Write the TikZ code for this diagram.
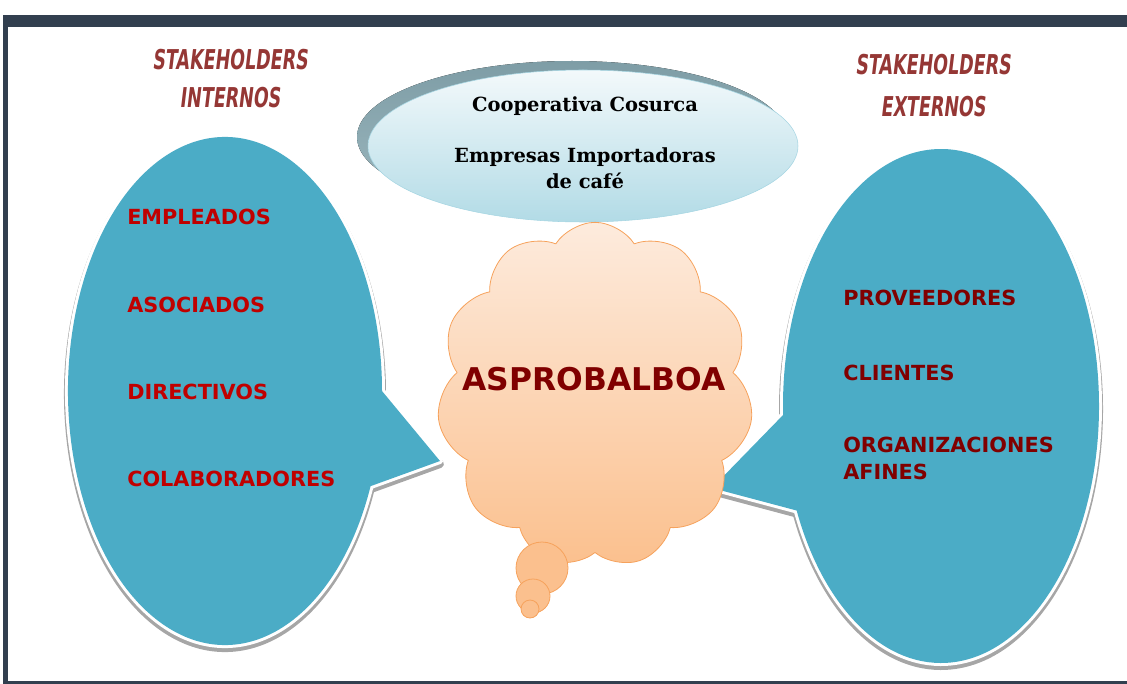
\documentclass[tikz,border=0pt]{standalone}
\usepackage{fontspec}
\usepackage{tikz}
\usetikzlibrary{shapes.symbols,calc}

\newfontfamily\capsfont{DejaVu Sans}
\newfontfamily\boxfont{DejaVu Serif}
\newfontfamily\handfont{DejaVu Sans}[FakeStretch=0.64,FakeSlant=0.12]

\definecolor{framecol}{HTML}{323F4F}
\definecolor{bubblecol}{HTML}{4BACC6}
\definecolor{shadowcol}{HTML}{A6A6A6}
\definecolor{intred}{HTML}{C00000}
\definecolor{extred}{HTML}{800000}
\definecolor{titlered}{HTML}{953735}
\definecolor{backtop}{HTML}{7E9DA6}
\definecolor{backbot}{HTML}{9DB8BF}
\definecolor{fronttop}{HTML}{F3F9FB}
\definecolor{frontbot}{HTML}{B2DBE6}
\definecolor{frontline}{HTML}{A5D5E2}
\definecolor{cloudtop}{HTML}{FDEBDD}
\definecolor{cloudbot}{HTML}{FBC08E}
\definecolor{cloudline}{HTML}{F6A25C}

\tikzset{
  bubble/.style={fill=bubblecol, preaction={draw=white, line width=4.5pt}},
  bubbleshadow/.style={fill=shadowcol, draw=shadowcol, line width=6pt,
    transform canvas={yshift=-2.25pt}},
  intlabel/.style={anchor=west, inner sep=0pt, text=intred,
    font=\capsfont\bfseries\fontsize{15.6}{20.25}\selectfont},
  extlabel/.style={intlabel, text=extred, align=left},
  stakeholder/.style={inner sep=0pt, text=titlered, align=center,
    font=\handfont\bfseries\fontsize{20.5}{28.5}\selectfont},
  boxtext/.style={inner sep=0pt, align=center,
    font=\boxfont\bfseries\fontsize{14.6}{19.5}\selectfont},
  puff/.style={draw=cloudline, line width=0.6pt, fill=cloudbot},
}

\newcommand\leftbubble{(ltip) -- ($(lc)+(22:157 and 254)$)
  arc[start angle=22, end angle=360, x radius=157, y radius=254] -- cycle}
\newcommand\rightbubble{(rtip) -- ($(rc)+(178:158 and 257)$)
  arc[start angle=178, end angle=516, x radius=158, y radius=257] -- cycle}

\begin{document}
\begin{tikzpicture}[x=0.75pt,y=-0.75pt,line join=round]
  \useasboundingbox (0,0) rectangle (1127,684);
%% frame
  \fill[framecol] (3,15) rectangle (1127,27);
  \fill[framecol] (3,15) rectangle (8,684);
  \fill[framecol] (3,681) rectangle (1127,684);
%% centres and tips
  \coordinate (lc) at (225,391);
  \coordinate (ltip) at (440,461);
  \coordinate (rc) at (941,406);
  \coordinate (rtip) at (712,488);
  \coordinate (topc) at (583,146);
  % Shape: left bubble
  \fill[bubbleshadow] \leftbubble;
  \fill[bubble] \leftbubble;
  % Shape: right bubble
  \fill[bubbleshadow] \rightbubble;
  \fill[bubble] \rightbubble;
  % Shape: top ellipse
  \fill[top color=backtop, bottom color=backbot] ($(topc)+(-11,-9)$) ellipse [x radius=215, y radius=76];
  \draw[draw=frontline, top color=fronttop, bottom color=frontbot] (topc) ellipse [x radius=215, y radius=76];
  % Node: cloud
  \node[cloud, cloud puffs=11, cloud puff arc=115, aspect=0.92, minimum width=237pt,
    minimum height=259pt, inner sep=0pt, draw=cloudline, line width=0.6pt,
    top color=cloudtop, bottom color=cloudbot] (cloud) at (595,395) {};
  \draw[puff] (542,568) circle [radius=26];
  \draw[puff] (533,596) circle [radius=17];
  \draw[puff] (530,609) circle [radius=9];
  \node[inner sep=0pt, text=extred, font=\capsfont\bfseries\fontsize{23.5}{28}\selectfont] (aspro) at (594,379) {ASPROBALBOA};
  % Node: titles
  \node[stakeholder] (inttitle) at (230,79) {STAKEHOLDERS\\INTERNOS};
  \node[stakeholder] (exttitle) at (933,85.5) {STAKEHOLDERS\\[3.5pt]EXTERNOS};
  % Node: top ellipse texts
  \node[boxtext] (coop) at (585,106) {Cooperativa Cosurca};
  \node[boxtext] (import) at (585,168) {Empresas Importadoras\\de café};
  % Node: internal stakeholders
  \node[intlabel] (empl) at (127,217) {EMPLEADOS};
  \node[intlabel] (asoc) at (127,305) {ASOCIADOS};
  \node[intlabel] (dir) at (127,392) {DIRECTIVOS};
  \node[intlabel] (colab) at (127,479) {COLABORADORES};
  % Node: external stakeholders
  \node[extlabel] (prov) at (843,298) {PROVEEDORES};
  \node[extlabel] (cli) at (843,373) {CLIENTES};
  \node[extlabel] (org) at (843,458.5) {ORGANIZACIONES\\AFINES};
%
\end{tikzpicture}
\end{document}
